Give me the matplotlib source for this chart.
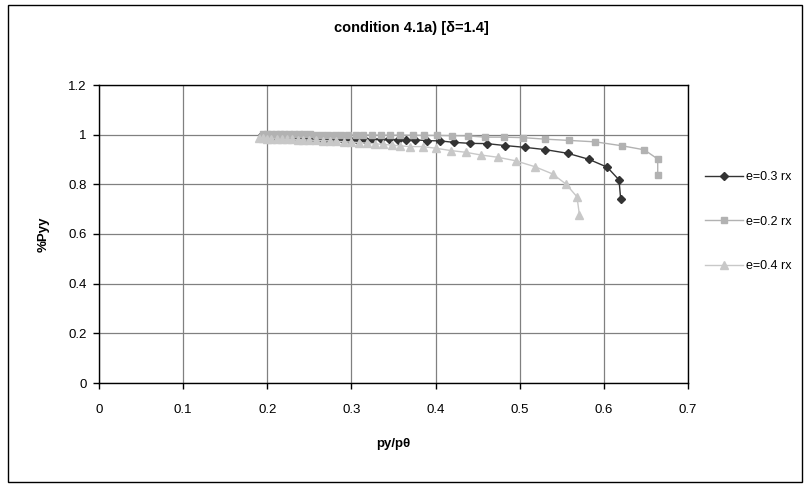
import matplotlib
matplotlib.use("Agg")
import matplotlib.pyplot as plt
from matplotlib.patches import Rectangle
from matplotlib.ticker import FuncFormatter

plt.rcParams['font.family'] = ['Liberation Sans', 'DejaVu Sans']

# e=0.3 rx (dark diamonds)
x_03 = [0.194, 0.200, 0.206, 0.212, 0.218, 0.224, 0.230, 0.237, 0.245, 0.253,
        0.261, 0.270, 0.279, 0.288, 0.297, 0.306, 0.315, 0.325, 0.335, 0.345,
        0.355, 0.365, 0.376, 0.390, 0.405, 0.422, 0.441, 0.461, 0.483, 0.506,
        0.530, 0.557, 0.582, 0.604, 0.618, 0.620]
y_03 = [1.000, 0.992, 0.991, 0.990, 0.990, 0.989, 0.989, 0.988, 0.988, 0.987,
        0.986, 0.986, 0.985, 0.985, 0.984, 0.984, 0.983, 0.983, 0.982, 0.981,
        0.980, 0.979, 0.979, 0.976, 0.975, 0.969, 0.965, 0.964, 0.956, 0.949,
        0.940, 0.925, 0.901, 0.869, 0.818, 0.741]

# e=0.2 rx (grey squares)
x_02 = [0.195, 0.200, 0.205, 0.210, 0.215, 0.220, 0.226, 0.232, 0.238, 0.244,
        0.251, 0.258, 0.265, 0.272, 0.280, 0.288, 0.296, 0.305, 0.314, 0.324,
        0.335, 0.346, 0.358, 0.373, 0.386, 0.402, 0.419, 0.438, 0.459, 0.481,
        0.504, 0.530, 0.558, 0.590, 0.622, 0.648, 0.664, 0.664]
y_02 = [1.003, 1.003, 1.003, 1.002, 1.002, 1.002, 1.002, 1.001, 1.001, 1.001,
        1.001, 1.000, 1.000, 1.000, 1.000, 1.000, 0.999, 0.999, 0.999, 0.999,
        0.998, 0.998, 0.998, 0.998, 0.997, 0.997, 0.996, 0.995, 0.990, 0.990,
        0.988, 0.982, 0.977, 0.971, 0.955, 0.939, 0.902, 0.838]

# e=0.4 rx (light triangles)
x_04 = [0.190, 0.195, 0.200, 0.205, 0.211, 0.217, 0.223, 0.229, 0.236, 0.243,
        0.250, 0.258, 0.266, 0.274, 0.282, 0.291, 0.300, 0.309, 0.318, 0.328,
        0.338, 0.348, 0.358, 0.370, 0.385, 0.401, 0.418, 0.436, 0.454, 0.474,
        0.495, 0.518, 0.539, 0.555, 0.568, 0.571]
y_04 = [0.985, 0.985, 0.984, 0.984, 0.983, 0.983, 0.982, 0.981, 0.980, 0.979,
        0.978, 0.977, 0.976, 0.975, 0.973, 0.972, 0.970, 0.968, 0.966, 0.963,
        0.961, 0.958, 0.955, 0.952, 0.952, 0.945, 0.936, 0.929, 0.918, 0.909,
        0.895, 0.871, 0.842, 0.801, 0.750, 0.677]

x_ticks = [0, 0.1, 0.2, 0.3, 0.4, 0.5, 0.6, 0.7]
y_ticks = [0, 0.2, 0.4, 0.6, 0.8, 1.0, 1.2]

fig = plt.figure(figsize=(8.09, 4.88), dpi=100)
ax = fig.add_axes([99/809, 105/488, 589/809, 298/488])

# outer chart border
fig.patches.append(Rectangle((8/809, 6/488), 794/809, 477/488, transform=fig.transFigure,
                             fill=False, edgecolor='black', linewidth=1.0))

# series order as in the sheet: later series drawn on top
ax.plot(x_03, y_03, color='#333333', lw=1.0, marker='D', ms=4, mfc='#333333',
        mec='#333333', label='e=0.3 rx', zorder=2)
ax.plot(x_02, y_02, color='#B2B2B2', lw=1.0, marker='s', ms=5, mfc='#B2B2B2',
        mec='#B2B2B2', label='e=0.2 rx', zorder=3)
ax.plot(x_04, y_04, color='#C8C8C8', lw=1.0, marker='^', ms=6, mfc='#C8C8C8',
        mec='#C8C8C8', label='e=0.4 rx', zorder=4)

ax.set_xlim(0, 0.7)
ax.set_ylim(0, 1.2)
ax.set_xticks(x_ticks)
ax.set_yticks(y_ticks)
fmt = FuncFormatter(lambda v, p: '{:g}'.format(round(v, 2)))
ax.xaxis.set_major_formatter(fmt)
ax.yaxis.set_major_formatter(fmt)
ax.grid(True, color='#808080', lw=0.9)
ax.set_axisbelow(True)
ax.tick_params(direction='out', length=4, width=1, labelsize=9.5, colors='black')
ax.tick_params(axis='x', pad=11)
ax.tick_params(axis='y', pad=5)
for s in ax.spines.values():
    s.set_color('black')
    s.set_linewidth(1.0)

ax.set_xlabel('py/pθ', fontsize=9.5, fontweight='bold', labelpad=16)
ax.set_ylabel('%Pyy', fontsize=9.5, fontweight='bold', labelpad=13)
fig.text(411/809, 1 - 28/488, 'condition 4.1a) [δ=1.4]', ha='center', va='center',
         fontsize=10.5, fontweight='bold')

fig.legend(loc='upper left', bbox_to_anchor=(694/809, 1 - 160/488), frameon=False,
           fontsize=9, handlelength=3.0, labelspacing=2.6, handletextpad=0.3)

fig.savefig('out.png', dpi=100)
